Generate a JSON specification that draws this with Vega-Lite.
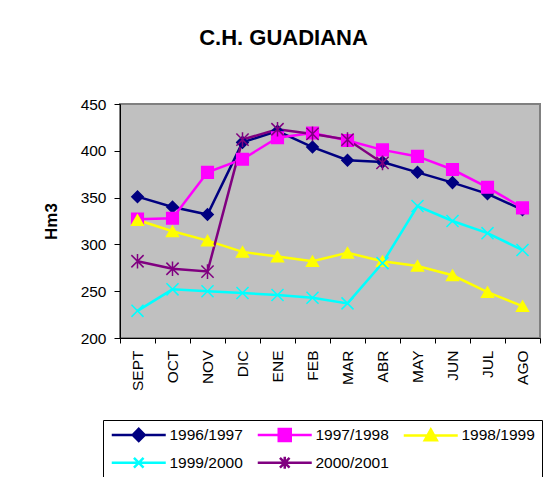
{
  "$schema": "https://vega.github.io/schema/vega-lite/v6.json",
  "autosize": "none",
  "width": 420,
  "height": 234,
  "padding": {"left": 120, "top": 104, "right": 17, "bottom": 139},
  "background": "white",
  "title": {
    "text": "C.H. GUADIANA",
    "font": "Liberation Sans",
    "fontSize": 22,
    "fontWeight": "bold",
    "color": "#000000",
    "anchor": "middle",
    "dx": -46.5,
    "baseline": "alphabetic",
    "offset": 30
  },
  "config": {
    "view": {"fill": "#C0C0C0", "stroke": "#808080", "strokeWidth": 2},
    "axis": {"grid": false, "domainColor": "#000000", "tickColor": "#000000", "labelColor": "#000000", "labelFont": "Liberation Sans", "titleFont": "Liberation Sans", "titleColor": "#000000"}
  },
  "data": {
    "values": [
      {"month": "SEPT", "series": "1996/1997", "value": 351},
      {"month": "OCT", "series": "1996/1997", "value": 340},
      {"month": "NOV", "series": "1996/1997", "value": 332},
      {"month": "DIC", "series": "1996/1997", "value": 409},
      {"month": "ENE", "series": "1996/1997", "value": 421},
      {"month": "FEB", "series": "1996/1997", "value": 404},
      {"month": "MAR", "series": "1996/1997", "value": 390},
      {"month": "ABR", "series": "1996/1997", "value": 388},
      {"month": "MAY", "series": "1996/1997", "value": 377},
      {"month": "JUN", "series": "1996/1997", "value": 366},
      {"month": "JUL", "series": "1996/1997", "value": 354},
      {"month": "AGO", "series": "1996/1997", "value": 337},
      {"month": "SEPT", "series": "1997/1998", "value": 327},
      {"month": "OCT", "series": "1997/1998", "value": 328},
      {"month": "NOV", "series": "1997/1998", "value": 377},
      {"month": "DIC", "series": "1997/1998", "value": 391},
      {"month": "ENE", "series": "1997/1998", "value": 414},
      {"month": "FEB", "series": "1997/1998", "value": 419},
      {"month": "MAR", "series": "1997/1998", "value": 411},
      {"month": "ABR", "series": "1997/1998", "value": 401},
      {"month": "MAY", "series": "1997/1998", "value": 394},
      {"month": "JUN", "series": "1997/1998", "value": 380},
      {"month": "JUL", "series": "1997/1998", "value": 361},
      {"month": "AGO", "series": "1997/1998", "value": 339},
      {"month": "SEPT", "series": "1998/1999", "value": 326},
      {"month": "OCT", "series": "1998/1999", "value": 314},
      {"month": "NOV", "series": "1998/1999", "value": 304},
      {"month": "DIC", "series": "1998/1999", "value": 292},
      {"month": "ENE", "series": "1998/1999", "value": 287},
      {"month": "FEB", "series": "1998/1999", "value": 282},
      {"month": "MAR", "series": "1998/1999", "value": 291},
      {"month": "ABR", "series": "1998/1999", "value": 282},
      {"month": "MAY", "series": "1998/1999", "value": 277},
      {"month": "JUN", "series": "1998/1999", "value": 267},
      {"month": "JUL", "series": "1998/1999", "value": 249},
      {"month": "AGO", "series": "1998/1999", "value": 234},
      {"month": "SEPT", "series": "1999/2000", "value": 229},
      {"month": "OCT", "series": "1999/2000", "value": 252},
      {"month": "NOV", "series": "1999/2000", "value": 250},
      {"month": "DIC", "series": "1999/2000", "value": 248},
      {"month": "ENE", "series": "1999/2000", "value": 246},
      {"month": "FEB", "series": "1999/2000", "value": 243},
      {"month": "MAR", "series": "1999/2000", "value": 237},
      {"month": "ABR", "series": "1999/2000", "value": 280},
      {"month": "MAY", "series": "1999/2000", "value": 341},
      {"month": "JUN", "series": "1999/2000", "value": 325},
      {"month": "JUL", "series": "1999/2000", "value": 312},
      {"month": "AGO", "series": "1999/2000", "value": 294},
      {"month": "SEPT", "series": "2000/2001", "value": 282},
      {"month": "OCT", "series": "2000/2001", "value": 274},
      {"month": "NOV", "series": "2000/2001", "value": 271},
      {"month": "DIC", "series": "2000/2001", "value": 412},
      {"month": "ENE", "series": "2000/2001", "value": 423},
      {"month": "FEB", "series": "2000/2001", "value": 418},
      {"month": "MAR", "series": "2000/2001", "value": 412},
      {"month": "ABR", "series": "2000/2001", "value": 387}
    ]
  },
  "encoding": {
    "x": {
      "field": "month",
      "type": "nominal",
      "sort": ["SEPT", "OCT", "NOV", "DIC", "ENE", "FEB", "MAR", "ABR", "MAY", "JUN", "JUL", "AGO"],
      "scale": {"type": "band", "paddingInner": 0, "paddingOuter": 0},
      "axis": {"title": null, "labelAngle": -90, "tickBand": "extent", "tickSize": 5, "labelPadding": 7, "labelFontSize": 15.5}
    },
    "y": {
      "field": "value",
      "type": "quantitative",
      "scale": {"domain": [200, 450], "nice": false, "zero": false},
      "axis": {
        "values": [200, 250, 300, 350, 400, 450],
        "title": "Hm3",
        "titleFontSize": 17,
        "titleFontWeight": "bold",
        "titleAngle": -90,
        "titleX": -69,
        "titleY": 117,
        "titleAlign": "center",
        "titleBaseline": "middle",
        "tickSize": 6,
        "labelPadding": 8,
        "labelFontSize": 15.5
      }
    }
  },
  "layer": [
    {
      "mark": {"type": "line", "strokeWidth": 2.5},
      "encoding": {
        "color": {
          "field": "series",
          "type": "nominal",
          "scale": {"domain": ["1996/1997", "1997/1998", "1998/1999", "1999/2000", "2000/2001"], "range": ["#000080", "#FF00FF", "#FFFF00", "#00FFFF", "#800080"]},
          "legend": null
        }
      }
    },
    {
      "mark": {"type": "point", "filled": true, "opacity": 1},
      "encoding": {
        "color": {
          "field": "series",
          "type": "nominal",
          "scale": {"domain": ["1996/1997", "1997/1998", "1998/1999", "1999/2000", "2000/2001"], "range": ["#000080", "#FF00FF", "#FFFF00", "#00FFFF", "#800080"]},
          "legend": null
        },
        "stroke": {
          "field": "series",
          "type": "nominal",
          "scale": {"domain": ["1996/1997", "1997/1998", "1998/1999", "1999/2000", "2000/2001"], "range": ["#000080", "#FF00FF", "#FFFF00", "#00FFFF", "#800080"]},
          "legend": null
        },
        "shape": {
          "field": "series",
          "type": "nominal",
          "scale": {"domain": ["1996/1997", "1997/1998", "1998/1999", "1999/2000", "2000/2001"], "range": ["diamond", "square", "triangle-up", "M-1,-1L1,1M-1,1L1,-1", "M-1,-1L1,1M-1,1L1,-1M0,-1.2L0,1.2"]},
          "legend": null
        },
        "size": {
          "field": "series",
          "type": "ordinal",
          "scale": {"domain": ["1996/1997", "1997/1998", "1998/1999", "1999/2000", "2000/2001"], "range": [130, 150, 170, 130, 130]},
          "legend": null
        },
        "strokeWidth": {
          "field": "series",
          "type": "ordinal",
          "scale": {"domain": ["1996/1997", "1997/1998", "1998/1999", "1999/2000", "2000/2001"], "range": [1.5, 1.5, 1.5, 2.5, 2.5]},
          "legend": null
        }
      }
    },
    {
      "mark": {"type": "point", "filled": true, "opacity": 0, "strokeWidth": 2.5},
      "encoding": {
        "color": {
          "field": "series",
          "type": "nominal",
          "scale": {"domain": ["1996/1997", "1997/1998", "1998/1999", "1999/2000", "2000/2001"], "range": ["#000080", "#FF00FF", "#FFFF00", "#00FFFF", "#800080"]},
          "legend": {"orient": "none", "legendX": -17, "legendY": 316, "direction": "horizontal", "columns": 3, "title": null, "symbolSize": 144, "symbolStrokeWidth": 2.5, "symbolOpacity": 1, "labelFont": "Liberation Sans", "labelFontSize": 15.5, "labelColor": "#000000", "labelOffset": 44, "columnPadding": 9, "rowPadding": 5, "padding": 7, "strokeColor": "#000000", "fillColor": "#FFFFFF"}
        },
        "stroke": {
          "field": "series",
          "type": "nominal",
          "scale": {"domain": ["1996/1997", "1997/1998", "1998/1999", "1999/2000", "2000/2001"], "range": ["#000080", "#FF00FF", "#FFFF00", "#00FFFF", "#800080"]},
          "legend": {"orient": "none", "legendX": -17, "legendY": 316, "direction": "horizontal", "columns": 3, "title": null, "symbolSize": 144, "symbolStrokeWidth": 2.5, "symbolOpacity": 1, "labelFont": "Liberation Sans", "labelFontSize": 15.5, "labelColor": "#000000", "labelOffset": 44, "columnPadding": 9, "rowPadding": 5, "padding": 7, "strokeColor": "#000000", "fillColor": "#FFFFFF"}
        },
        "shape": {
          "field": "series",
          "type": "nominal",
          "scale": {"domain": ["1996/1997", "1997/1998", "1998/1999", "1999/2000", "2000/2001"], "range": ["M-1,0H8M3.5,-1L4.5,0L3.5,1L2.5,0Z", "M-1,0H8M2.5,-1H4.5V1H2.5Z", "M-1,0H8M3.5,-1L4.5,0.8L2.5,0.8Z", "M-1,0H8M2.7,-0.8L4.3,0.8M2.7,0.8L4.3,-0.8", "M-1,0H8M2.7,-0.8L4.3,0.8M2.7,0.8L4.3,-0.8M3.5,-1V1"]},
          "legend": {"orient": "none", "legendX": -17, "legendY": 316, "direction": "horizontal", "columns": 3, "title": null, "symbolSize": 144, "symbolStrokeWidth": 2.5, "symbolOpacity": 1, "labelFont": "Liberation Sans", "labelFontSize": 15.5, "labelColor": "#000000", "labelOffset": 44, "columnPadding": 9, "rowPadding": 5, "padding": 7, "strokeColor": "#000000", "fillColor": "#FFFFFF"}
        }
      }
    }
  ],
  "resolve": {"scale": {"color": "independent", "stroke": "independent", "shape": "independent", "size": "independent", "strokeWidth": "independent"}}
}
